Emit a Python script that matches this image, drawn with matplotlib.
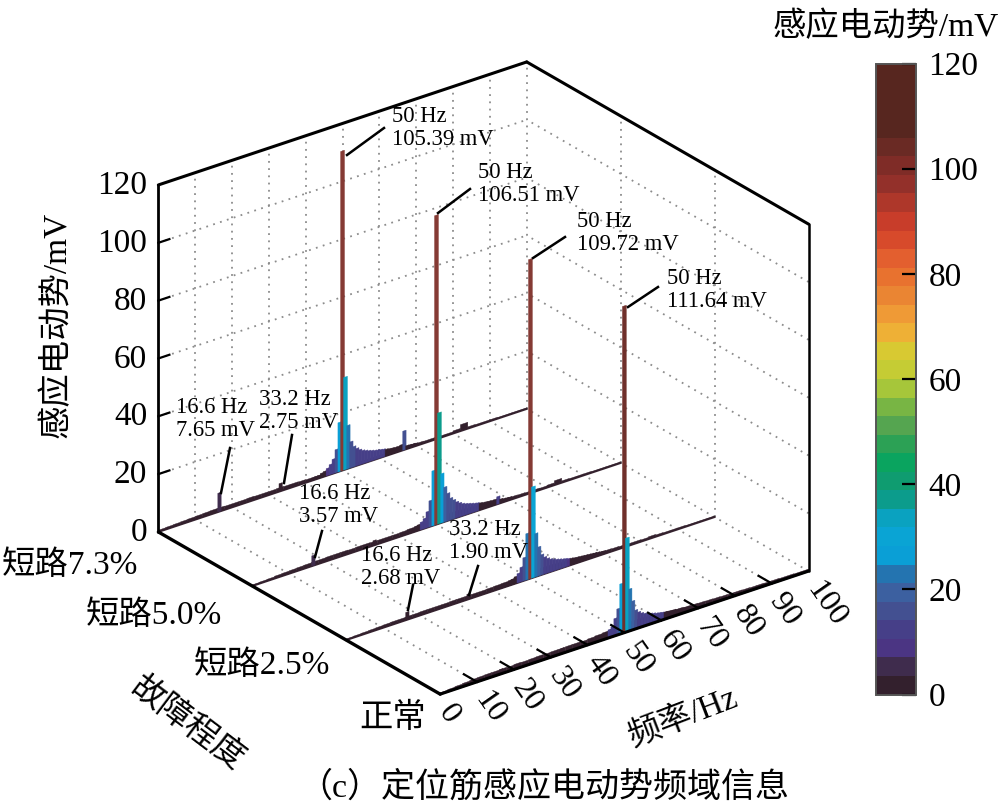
import matplotlib
matplotlib.use("Agg")
import matplotlib.pyplot as plt
import numpy as np
from matplotlib.cm import ScalarMappable
from matplotlib.colors import ListedColormap, Normalize
from matplotlib.lines import Line2D
from mpl_toolkits.mplot3d import proj3d

plt.rcParams["font.family"] = ["Liberation Serif", "Noto Sans CJK SC"]

W, H = 1004, 811

faults = ["正常", "短路2.5%", "短路5.0%", "短路7.3%"]
freq_ticks = [0, 10, 20, 30, 40, 50, 60, 70, 80, 90, 100]
z_ticks = [0, 20, 40, 60, 80, 100, 120]

# broad background of each spectrum, 2 Hz columns
floor_freq = list(range(1, 100, 2))
floor_normal = [0.5, 0.7, 0.9, 1.1, 1.3, 1.4, 1.5, 1.5, 1.6, 1.5, 1.7, 1.6, 1.7, 1.8, 1.7, 1.8, 1.8,
                1.9, 1.9, 1.8, 2.0, 2.2, 2.4, 2.6, 3.0, 3.0, 3.0, 3.0, 2.8, 2.6, 2.4, 2.2, 2.0, 1.8,
                1.7, 1.6, 1.5, 1.4, 1.3, 1.2, 1.2, 1.1, 1.0, 1.0, 0.9, 0.9, 0.8, 0.8, 0.7, 0.7]
floor_25 = [0.4, 0.5, 0.6, 0.7, 0.8, 0.9, 1.0, 1.0, 1.1, 1.1, 1.2, 1.2, 1.2, 1.2, 1.3, 1.3, 1.3,
            1.3, 1.3, 1.4, 1.5, 1.6, 1.8, 2.0, 2.4, 2.4, 2.4, 2.4, 2.2, 2.0, 1.8, 1.6, 1.4, 1.3,
            1.1, 1.0, 0.9, 0.8, 0.7, 0.7, 0.6, 0.8, 0.6, 0.5, 0.5, 0.5, 0.4, 0.4, 0.4, 0.4]
floor_50 = [0.4, 0.5, 0.6, 0.8, 0.9, 1.0, 1.1, 1.2, 1.3, 1.3, 1.4, 1.4, 1.4, 1.3, 1.4, 1.4, 1.3,
            1.3, 1.3, 1.3, 1.4, 1.6, 1.8, 2.0, 2.4, 2.4, 2.4, 2.4, 2.2, 2.0, 1.8, 1.6, 1.4, 1.2,
            1.0, 0.9, 0.8, 0.7, 0.7, 0.6, 0.8, 1.5, 0.6, 0.5, 0.5, 0.5, 0.4, 0.4, 0.4, 0.4]
floor_73 = [0.6, 0.7, 0.8, 0.9, 1.0, 1.1, 1.2, 1.3, 1.3, 1.2, 1.2, 1.2, 1.3, 1.2, 1.2, 1.2, 1.3,
            1.2, 1.2, 1.1, 1.0, 1.0, 1.0, 1.0, 1.0, 1.0, 1.0, 1.0, 1.0, 1.0, 1.0, 1.0, 1.0, 1.0,
            1.0, 0.8, 0.7, 0.7, 0.6, 0.6, 0.9, 2.2, 0.6, 0.5, 0.5, 0.5, 0.4, 0.4, 0.4, 0.4]

# leakage around the 50 Hz line, 0.8 Hz columns
lobe_freq = [42.0, 42.8, 43.6, 44.4, 45.2, 46.0, 46.8, 47.6, 48.4, 49.2, 50.0, 50.8, 51.6, 52.4, 53.2,
             54.0, 54.8, 55.6, 56.4, 57.2, 58.0, 58.8, 59.6, 60.4, 61.2, 62.0, 62.8, 63.6, 64.4,
             65.2, 66.0, 66.8, 67.6, 68.4, 69.2, 70.0]
lobe_normal = [1.2, 1.3, 1.5, 1.8, 2.2, 2.8, 3.5, 6.0, 9.0, 17.3, 113.0, 32.5, 14.5, 10.0, 6.5,
               5.5, 4.8, 4.3, 3.9, 3.6, 3.3, 3.0, 2.8, 2.6, 2.4, 2.3, 2.2, 2.0, 1.9,
               1.8, 1.7, 1.6, 1.5, 1.4, 1.3, 1.2]
lobe_25 = [1.0, 1.1, 1.3, 1.5, 1.9, 2.4, 3.2, 5.0, 8.0, 16.0, 110.5, 31.5, 15.0, 10.0, 7.0,
           5.8, 5.0, 4.4, 4.0, 3.6, 3.3, 3.0, 2.8, 2.5, 2.3, 2.1, 2.0, 1.9, 1.8,
           1.7, 1.6, 1.5, 1.4, 1.3, 1.1, 1.0]
lobe_50 = [1.0, 1.1, 1.3, 1.6, 2.0, 2.6, 3.5, 5.5, 9.0, 19.0, 107.0, 38.4, 17.0, 12.0, 9.5,
           7.5, 6.5, 5.5, 4.8, 4.2, 3.8, 3.5, 3.2, 2.9, 2.7, 2.4, 2.2, 2.1, 2.0,
           1.9, 1.9, 2.6, 1.4, 1.2, 1.1, 1.0]
lobe_73 = [0.8, 1.0, 1.0, 1.5, 1.8, 2.5, 3.5, 5.0, 8.0, 17.0, 110.5, 32.0, 15.0, 9.0, 7.0,
           6.0, 5.2, 4.6, 4.2, 3.8, 3.5, 3.2, 3.0, 2.8, 2.6, 2.3, 2.1, 2.0, 1.9,
           1.9, 2.1, 6.6, 1.2, 1.1, 1.0, 0.9]

# side harmonics marked in the figure
harm_freq = [16.6, 33.2]
harm_normal = [1.6, 1.8]
harm_25 = [2.68, 1.9]
harm_50 = [3.57, 1.7]
harm_73 = [6.5, 2.75]

floors = [floor_normal, floor_25, floor_50, floor_73]
lobes = [lobe_normal, lobe_25, lobe_50, lobe_73]
harms = [harm_normal, harm_25, harm_50, harm_73]
peak_mv = [111.64, 109.72, 106.51, 105.39]
peak_colors = ["#70302b", "#853a34", "#853a34", "#853a34"]

band_colors = ["#33202d", "#3f2c4d", "#4b3583", "#463f88", "#435091", "#3c60a0", "#2474b0", "#0a9fd6",
               "#0aa4d4", "#0aa2c0", "#0c9c8c", "#0f9c70", "#0aa45f", "#2ca155", "#55a550", "#78b544",
               "#a6c63a", "#c5cc34", "#d8c932", "#eeb036", "#ef9a36", "#ea8533", "#e8722f", "#e35f2f",
               "#d74a2b", "#c83d2a", "#ae372a", "#93302a", "#7f2c27", "#6a2a24", "#57261f", "#57261f",
               "#57261f", "#57261f"]
cmap = ListedColormap(band_colors)
norm = Normalize(0, 120)


def px_x(x):
    return x / W


def px_y(y):
    return 1 - y / H


fig = plt.figure(figsize=(W / 100, H / 100), dpi=100)
ax = fig.add_axes([124 / W, 73.5 / H, 700 / W, 700 / H], projection="3d", proj_type="ortho",
                  computed_zorder=False)
ax.view_init(elev=26, azim=-127.3)
ax.set_box_aspect((463, 465, 386), zoom=1.056)
ax.set_axis_off()
ax.patch.set_visible(False)

# dotted grid on the floor and the two back walls
grid = dict(color="#8c8c8c", lw=1.3, ls=(0, (1, 3)), zorder=1)
for f in freq_ticks[1:]:
    ax.plot([f, f], [0, 3], [0, 0], **grid)
    ax.plot([f, f], [3, 3], [0, 120], **grid)
for y in [1, 2]:
    ax.plot([100, 100], [y, y], [0, 120], **grid)
for z in z_ticks[1:-1]:
    ax.plot([0, 100], [3, 3], [z, z], **grid)
    ax.plot([100, 100], [0, 3], [z, z], **grid)

# spectra, back row first
for i in [3, 2, 1, 0]:
    zo = 10 + (3 - i) * 5
    ax.plot([0, 100], [i, i], [0, 0], color="#3a2833", lw=1.4, zorder=zo)
    c = cmap(norm(floors[i]))
    ax.bar(floor_freq, floors[i], zs=i, zdir="y", width=2.0, color=c, edgecolor=c, linewidth=0.3, zorder=zo)
    c = cmap(norm(harms[i]))
    ax.bar(harm_freq, harms[i], zs=i, zdir="y", width=0.9, color=c, edgecolor=c, linewidth=0.3, zorder=zo + 1)
    vals = np.array(lobes[i])
    # the low columns print lighter than the colour bar says
    c = cmap(norm(np.where((vals >= 2.5) & (vals < 20), vals + 8, vals)))
    c[lobe_freq.index(50.0)] = matplotlib.colors.to_rgba(peak_colors[i])
    widths = [1.05 if f in (50.0, 50.8) else 0.9 for f in lobe_freq]
    ax.bar(lobe_freq, vals, zs=i, zdir="y", width=widths, color=c, edgecolor=c, linewidth=0.3, zorder=zo + 2)

# box frame
frame = dict(color="black", solid_capstyle="round", zorder=40)
ax.plot([0, 0], [0, 3], [0, 0], lw=2.4, **frame)
ax.plot([0, 100], [0, 0], [0, 0], lw=2.2, **frame)
ax.plot([0, 0], [3, 3], [0, 120], lw=2.0, **frame)
ax.plot([0, 100], [3, 3], [120, 120], lw=2.2, **frame)
ax.plot([100, 100], [3, 0], [120, 120], lw=2.2, **frame)
ax.plot([100, 100], [0, 0], [120, 0], lw=1.8, **frame)

for f in freq_ticks[1:-1]:
    ax.plot([f, f], [0, 0.14], [0, 0], color="black", lw=1.6, zorder=41)
for z in z_ticks[1:-1]:
    ax.plot([0, 3], [3, 3], [z, z], color="black", lw=1.6, zorder=41)

ax.set_xlim(0, 100)
ax.set_ylim(0, 3)
ax.set_zlim(0, 120)
M = ax.get_proj()

for z in z_ticks:
    xp, yp, _ = proj3d.proj_transform(-3, 3, z + 1, M)
    ax.text2D(xp, yp, str(z), transform=ax.transData, fontsize=24, ha="right", va="center", zorder=50)
for f in freq_ticks:
    xp, yp, _ = proj3d.proj_transform(f + 1, 0, -5, M)
    ax.text2D(xp, yp, str(f), transform=ax.transData, fontsize=23, rotation=-55, rotation_mode="anchor",
              ha="left", va="center", zorder=50)

# category names, position in reference pixels
fault_right = [426, 330, 222, 138]
fault_mid = [718, 666, 616, 566]
for name, x, y in zip(faults, fault_right, fault_mid):
    fig.text(px_x(x), px_y(y), name, fontsize=24, ha="right", va="center")

# peak and harmonic call-outs, position in reference pixels
notes = [
    (392, 122, "50 Hz", f"{peak_mv[3]:.2f} mV", (347, 155), (384, 128)),
    (478, 178, "50 Hz", f"{peak_mv[2]:.2f} mV", (438, 213), (470, 189)),
    (577, 227, "50 Hz", f"{peak_mv[1]:.2f} mV", (533, 258), (565, 237)),
    (667, 284, "50 Hz", f"{peak_mv[0]:.2f} mV", (628, 307), (658, 287)),
    (176, 413, "16.6 Hz", "7.65 mV", (230, 448), (221, 493)),
    (259, 405, "33.2 Hz", "2.75 mV", (292, 435), (284, 483)),
    (299, 499, "16.6 Hz", "3.57 mV", (322, 531), (315, 557)),
    (361, 561, "16.6 Hz", "2.68 mV", (413, 585), (408, 610)),
    (449, 535, "33.2 Hz", "1.90 mV", (478, 566), (469, 595)),
]
for x, y, line1, line2, p0, p1 in notes:
    fig.text(px_x(x), px_y(y), line1, fontsize=16.3, va="baseline")
    fig.text(px_x(x), px_y(y + 22.7), line2, fontsize=16.3, va="baseline")
    fig.add_artist(Line2D([px_x(p0[0]), px_x(p1[0])], [px_y(p0[1]), px_y(p1[1])], color="black", lw=1.8,
                          transform=fig.transFigure))

fig.text(px_x(57), px_y(325), "感应电动势/mV", fontsize=24, rotation=90, ha="center", va="center")
fig.text(px_x(683), px_y(717), "频率/Hz", fontsize=24, rotation=21, ha="center", va="center")
fig.text(px_x(187), px_y(724), "故障程度", fontsize=24, rotation=-37, ha="center", va="center")
fig.text(px_x(298), px_y(788), "（c）定位筋感应电动势频域信息", fontsize=24.5, ha="left", va="center")
fig.text(px_x(772), px_y(27), "感应电动势/mV", fontsize=24, ha="left", va="center")

cax = fig.add_axes([876 / W, 1 - 694.5 / H, 40 / W, 631 / H])
cb = fig.colorbar(ScalarMappable(norm=norm, cmap=cmap), cax=cax, ticks=z_ticks)
cb.ax.tick_params(direction="in", length=10, width=1.6, labelsize=24, pad=9, color="black")
cb.outline.set_edgecolor("#555555")
cb.outline.set_linewidth(1.4)

fig.savefig("out.png", dpi=100)
